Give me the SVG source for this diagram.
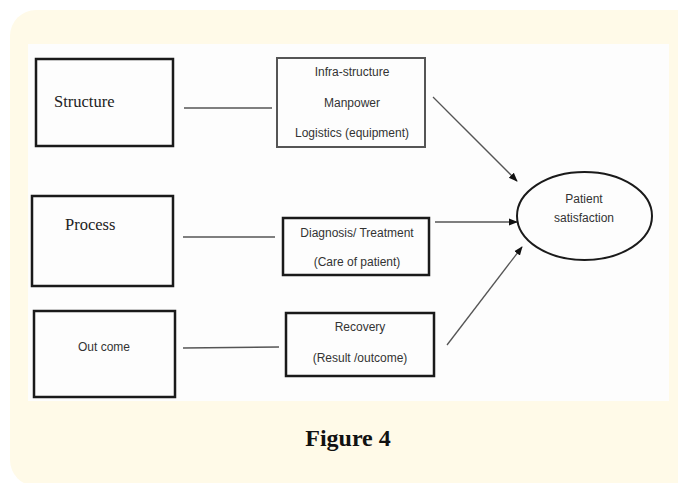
<svg xmlns="http://www.w3.org/2000/svg" width="678" height="483" viewBox="0 0 678 483">
<defs>
<style>
.box{fill:none;stroke:#1a1a1a;stroke-width:2.5}
.gbox{fill:none;stroke:#555;stroke-width:2}
.serif{font-family:"Liberation Serif","Times New Roman",serif;font-size:16.5px;fill:#222}
.sans{font-family:"Liberation Sans",Arial,sans-serif;font-size:12px;fill:#333}
.mid{text-anchor:middle}
.conn line{stroke:#555;stroke-width:1.3}
.arr{marker-end:url(#ah)}
</style>
<marker id="ah" viewBox="0 0 10 10" refX="9" refY="5" markerWidth="9" markerHeight="9" markerUnits="userSpaceOnUse" orient="auto">
<path d="M0,1 L10,5 L0,9 Z" fill="#111"/>
</marker>
</defs>
<rect x="0" y="0" width="678" height="483" fill="#ffffff"/>
<rect x="10" y="10" width="720" height="476" rx="26" fill="#fffae8"/>
<rect x="28" y="44" width="641" height="357" fill="#fdfdfd"/>

<g id="structure">
<rect class="box" x="36" y="59" width="137" height="87"/>
<text class="serif" x="54" y="107">Structure</text>
</g>
<g id="process">
<rect class="box" x="32" y="196" width="141" height="90"/>
<text class="serif" x="65" y="230">Process</text>
</g>
<g id="outcome">
<rect class="box" x="34" y="311" width="141" height="86"/>
<text class="sans mid" x="104" y="351">Out come</text>
</g>
<g id="infra">
<rect class="gbox" x="277" y="58" width="148" height="89"/>
<text class="sans mid" x="352" y="76">Infra-structure</text>
<text class="sans mid" x="352" y="107">Manpower</text>
<text class="sans mid" x="352" y="137">Logistics (equipment)</text>
</g>
<g id="diagnosis">
<rect class="box" x="283" y="218" width="146" height="57"/>
<text class="sans mid" x="357" y="237">Diagnosis/ Treatment</text>
<text class="sans mid" x="357" y="266">(Care of patient)</text>
</g>
<g id="recovery">
<rect class="box" x="286" y="313" width="148" height="63"/>
<text class="sans mid" x="360" y="331">Recovery</text>
<text class="sans mid" x="360" y="362">(Result /outcome)</text>
</g>
<g id="patient">
<ellipse cx="584.5" cy="216" rx="67.5" ry="44" fill="none" stroke="#1a1a1a" stroke-width="2"/>
<text class="sans mid" x="584" y="203">Patient</text>
<text class="sans mid" x="584" y="222">satisfaction</text>
</g>

<g id="connectors" class="conn">
<line x1="184" y1="108" x2="272" y2="108"/>
<line x1="183" y1="237" x2="275" y2="237"/>
<line x1="183" y1="348" x2="279" y2="347"/>
<line class="arr" x1="433" y1="97" x2="517" y2="181"/>
<line class="arr" x1="435" y1="222" x2="517" y2="222"/>
<line class="arr" x1="447" y1="345" x2="522" y2="247"/>
</g>

<text x="348" y="446" text-anchor="middle" font-family="Liberation Serif,'Times New Roman',serif" font-weight="bold" font-size="24" fill="#111">Figure 4</text>
</svg>
